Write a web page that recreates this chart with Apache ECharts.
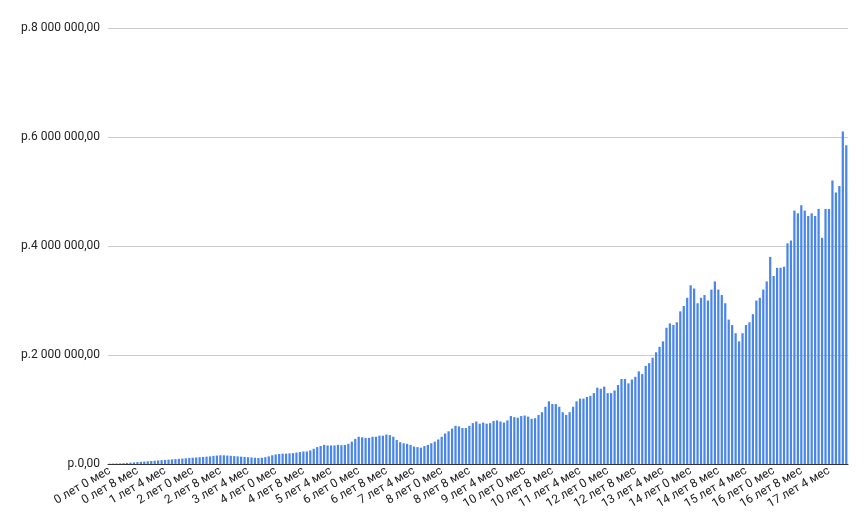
<!DOCTYPE html>
<html>
<head>
<meta charset="utf-8">
<script src="https://cdn.jsdelivr.net/npm/echarts@6/dist/echarts.min.js"></script>
<style>html,body{margin:0;padding:0;background:#fff}#chart{width:865px;height:530px}</style>
</head>
<body>
<div id="chart"></div>
<script>
// values in thousands of roubles, one per month
var values = [
	5,8,10,12,15,20,25,30,
	35,40,45,50,55,60,65,70,
	75,80,85,90,95,100,105,110,
	115,120,125,130,135,140,150,155,
	160,160,155,150,145,140,135,130,
	125,120,115,110,115,125,140,160,
	175,185,190,190,195,200,210,220,
	230,230,250,280,310,330,350,340,
	340,340,350,345,350,370,410,460,
	500,490,480,480,500,500,520,520,
	540,530,500,440,400,380,370,350,
	320,310,300,330,350,380,410,450,
	500,560,600,650,700,690,660,660,
	700,750,780,740,760,740,750,790,
	800,780,760,800,880,860,850,880,
	890,870,830,840,900,950,1050,1150,
	1100,1100,1050,950,900,950,1050,1150,
	1200,1200,1230,1250,1300,1400,1380,1420,
	1300,1300,1350,1450,1560,1560,1480,1550,
	1600,1700,1650,1800,1850,1950,2050,2150,
	2250,2500,2580,2550,2600,2800,2900,3050,
	3280,3220,2950,3050,3100,3000,3200,3350,
	3200,3100,2950,2650,2550,2400,2250,2400,
	2550,2600,2750,3000,3050,3200,3350,3800,
	3450,3600,3600,3620,4050,4100,4650,4600,
	4750,4650,4550,4600,4550,4680,4150,4680,
	4680,5200,4980,5100,6100,5850
];
var categories = values.map(function (v, i) {
	return Math.floor(i / 12) + ' лет ' + (i % 12) + ' мес';
});

function rub(v) {
	var s = String(Math.round(v)).replace(/\B(?=(\d{3})+(?!\d))/g, ' ');
	return 'р.' + s + ',00';
}

var myChart = echarts.init(document.getElementById('chart'));
var option = {
	animation: false,
	grid: { left: 108, right: 17, top: 28, bottom: 66, containLabel: false },
	xAxis: {
		type: 'category',
		data: categories,
		axisTick: { show: false },
		axisLine: { lineStyle: { color: '#333' } },
		axisLabel: { interval: 7, rotate: 30, fontSize: 12, color: '#222', fontFamily: 'Roboto, Arial', margin: 6 }
	},
	yAxis: {
		type: 'value',
		min: 0, max: 8000000, interval: 2000000,
		axisLabel: { formatter: rub, fontSize: 12, color: '#222', fontFamily: 'Roboto, Arial' },
		splitLine: { lineStyle: { color: '#ccc' } }
	},
	series: [{
		type: 'bar',
		data: values.map(function (v) { return v * 1000; }),
		barCategoryGap: '35%',
		itemStyle: { color: '#4a86e8' }
	}]
};
myChart.setOption(option, true);
</script>
</body>
</html>
